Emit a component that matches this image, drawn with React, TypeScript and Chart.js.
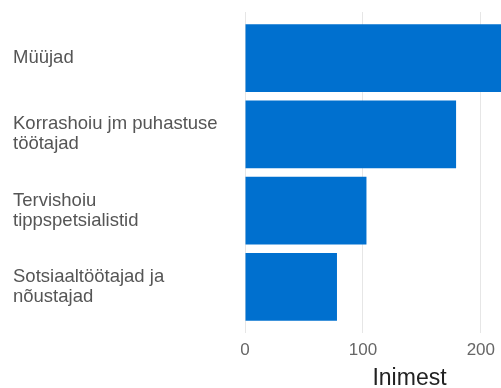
import React, { useEffect, useRef } from "react";
import { Chart, registerables } from "chart.js";

Chart.register(...registerables);

// ---- Data ----
const categories: (string | string[])[] = [
  "Müüjad",
  ["Korrashoiu jm puhastuse", "töötajad"],
  ["Tervishoiu", "tippspetsialistid"],
  ["Sotsiaaltöötajad ja", "nõustajad"],
];
const values = [266, 179, 103, 78];
const xTickValues = [0, 100, 200];
const xAxisMax = 279;
const xAxisTitle = "Inimest";

const FONT = '"Liberation Sans", Arial, Helvetica, sans-serif';
const BAR_COLOR = "#0070cf";
const GRID_COLOR = "#e6e6e6";

export default function App() {
  const canvasRef = useRef<HTMLCanvasElement | null>(null);

  useEffect(() => {
    if (!canvasRef.current) return;
    const setTicks = (axis: any) => {
      axis.ticks = xTickValues.map((v) => ({ value: v }));
    };
    const chart = new Chart(canvasRef.current, {
      type: "bar",
      data: {
        labels: categories,
        datasets: [
          {
            data: values,
            backgroundColor: BAR_COLOR,
            borderWidth: 0,
            barPercentage: 0.887,
            categoryPercentage: 1,
            xAxisID: "x",
            yAxisID: "y",
          },
        ],
      },
      options: {
        indexAxis: "y",
        animation: false,
        responsive: false,
        devicePixelRatio: 1,
        layout: { padding: { left: 13, top: 8, right: 0, bottom: -2 } },
        plugins: {
          legend: { display: false },
          tooltip: { enabled: false },
        },
        scales: {
          x: {
            type: "linear",
            position: "bottom",
            min: 0,
            max: xAxisMax,
            afterBuildTicks: setTicks,
            grid: { color: GRID_COLOR, lineWidth: 1, drawTicks: true, tickLength: 8 },
            border: { display: false },
            ticks: {
              font: { family: FONT, size: 17 },
              color: "#666666",
              padding: 7,
            },
            title: {
              display: true,
              text: xAxisTitle,
              font: { family: FONT, size: 23, lineHeight: 0.94 },
              color: "#222222",
              padding: { top: 0, bottom: 1 },
            },
          },
          x2: {
            type: "linear",
            position: "top",
            min: 0,
            max: xAxisMax,
            afterBuildTicks: setTicks,
            grid: {
              color: GRID_COLOR,
              lineWidth: 1,
              drawOnChartArea: false,
              drawTicks: true,
              tickLength: 8,
            },
            border: { display: false },
            ticks: { display: false },
          },
          y: {
            type: "category",
            grid: { display: false, drawTicks: false },
            border: { display: false },
            ticks: {
              crossAlign: "far",
              font: { family: FONT, size: 18.5, lineHeight: 1.08 },
              color: "#555555",
              padding: 0,
            },
            afterFit: (axis: any) => {
              axis.width = 232;
            },
          },
        },
      },
    });
    return () => chart.destroy();
  }, []);

  return (
    <div
      style={{
        position: "absolute",
        left: 0,
        top: 0,
        width: 501,
        height: 388,
        overflow: "hidden",
        background: "#ffffff",
      }}
    >
      <canvas ref={canvasRef} width={574} height={388} style={{ display: "block" }} />
    </div>
  );
}
